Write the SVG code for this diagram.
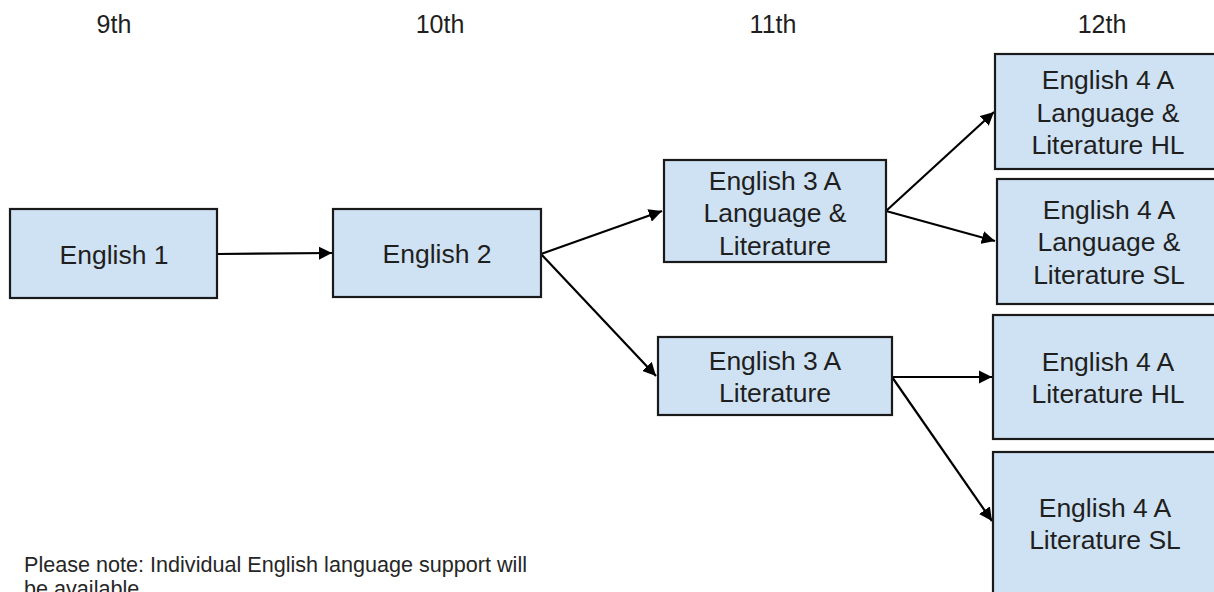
<svg xmlns="http://www.w3.org/2000/svg" width="1214" height="592" viewBox="0 0 1214 592">
<style>
.box{fill:#cfe2f3;stroke:#1a1a1a;stroke-width:2.2}
.t{font-family:"Liberation Sans",Arial,sans-serif;font-size:26.5px;fill:#1f1f1f;text-anchor:middle}
.h{font-family:"Liberation Sans",Arial,sans-serif;font-size:25px;fill:#1f1f1f;text-anchor:middle}
.n{font-family:"Liberation Sans",Arial,sans-serif;font-size:21.6px;fill:#262626}
.c{stroke:#000;stroke-width:2.2;fill:none;marker-end:url(#ah)}
</style>
<defs>
<marker id="ah" viewBox="0 0 10 10" refX="10" refY="5" markerWidth="6" markerHeight="6" markerUnits="strokeWidth" orient="auto">
<path d="M0,0 L10,5 L0,10 z" fill="#000"/>
</marker>
</defs>
<rect width="1214" height="592" fill="#fff"/>
<g id="headers">
<text class="h" x="114" y="33">9th</text>
<text class="h" x="440" y="33">10th</text>
<text class="h" x="773" y="33">11th</text>
<text class="h" x="1102" y="33">12th</text>
</g>
<g id="connectors">
<line class="c" x1="217" y1="254" x2="332" y2="253"/>
<line class="c" x1="541" y1="254" x2="662" y2="211"/>
<line class="c" x1="541" y1="254" x2="656" y2="376"/>
<line class="c" x1="886" y1="211" x2="994" y2="112"/>
<line class="c" x1="886" y1="211" x2="995" y2="241"/>
<line class="c" x1="892" y1="377" x2="992" y2="377"/>
<line class="c" x1="892" y1="377" x2="992" y2="521"/>
</g>
<g id="n1"><rect class="box" x="10" y="209" width="207" height="89"/><text class="t" x="114" y="264">English 1</text></g>
<g id="n2"><rect class="box" x="333" y="209" width="208" height="88"/><text class="t" x="437" y="263">English 2</text></g>
<g id="n3"><rect class="box" x="664" y="160" width="222" height="102"/><text class="t" x="775" y="190">English 3 A</text><text class="t" x="775" y="222">Language &amp;</text><text class="t" x="775" y="255">Literature</text></g>
<g id="n4"><rect class="box" x="658" y="337" width="234" height="78"/><text class="t" x="775" y="370">English 3 A</text><text class="t" x="775" y="402">Literature</text></g>
<g id="n5"><rect class="box" x="995" y="54" width="225" height="115"/><text class="t" x="1108" y="89">English 4 A</text><text class="t" x="1108" y="122">Language &amp;</text><text class="t" x="1108" y="154">Literature HL</text></g>
<g id="n6"><rect class="box" x="997" y="179" width="225" height="125"/><text class="t" x="1109" y="219">English 4 A</text><text class="t" x="1109" y="251">Language &amp;</text><text class="t" x="1109" y="284">Literature SL</text></g>
<g id="n7"><rect class="box" x="993" y="315" width="227" height="124"/><text class="t" x="1108" y="371">English 4 A</text><text class="t" x="1108" y="403">Literature HL</text></g>
<g id="n8"><rect class="box" x="993" y="452" width="227" height="150"/><text class="t" x="1105" y="517">English 4 A</text><text class="t" x="1105" y="549">Literature SL</text></g>
<g id="note">
<text class="n" x="24" y="572">Please note: Individual English language support will</text>
<text class="n" x="24" y="596">be available</text>
</g>
</svg>
